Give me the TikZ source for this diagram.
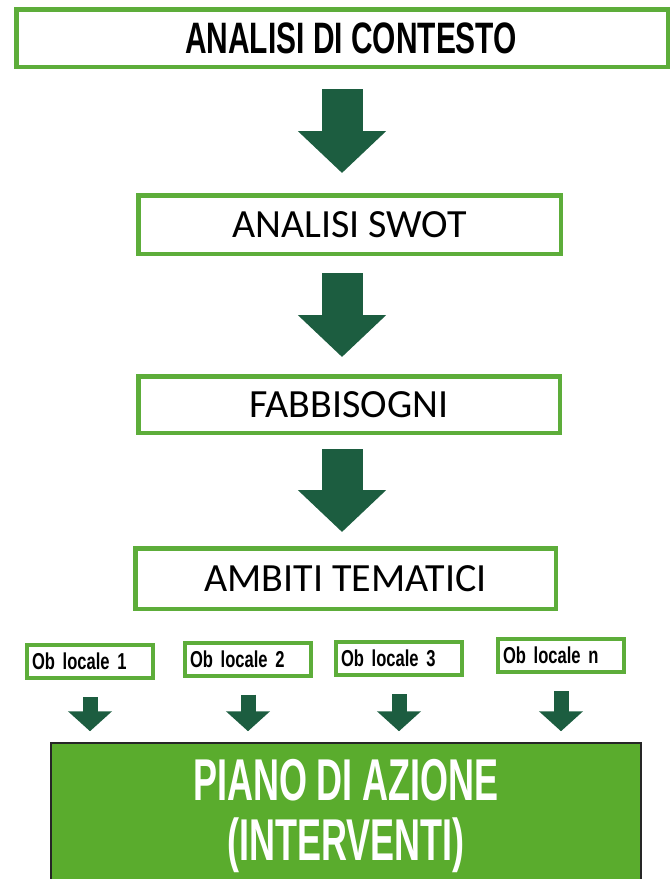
\documentclass[tikz,border=0pt]{standalone}
\usepackage{fontspec}
\setmainfont{Carlito}
\newfontfamily\headfont[FakeStretch=0.68]{Liberation Sans}
\newfontfamily\obfont[FakeStretch=0.72, WordSpace=0.45]{Liberation Sans}
\newfontfamily\pianofont[FakeStretch=0.61]{Liberation Sans}
\usetikzlibrary{positioning}
\usetikzlibrary{arrows.meta}

\definecolor{framegreen}{RGB}{93,173,58}
\definecolor{fillgreen}{RGB}{90,172,45}
\definecolor{arrowgreen}{RGB}{28,93,64}

\begin{document}
\begin{tikzpicture}[x=1pt, y=-1pt,
    stagebox/.style={rectangle, draw=framegreen, line width=4.5pt, fill=white, inner sep=0pt, font=\fontsize{40}{48}\selectfont},
    obbox/.style={rectangle, draw=framegreen, line width=4pt, fill=white, text width=116pt, inner sep=5pt, minimum height=33pt, align=left, font=\obfont\bfseries\fontsize{23}{24}\selectfont},
    bigarrow/.style={draw=arrowgreen, line width=41pt, -{Triangle[width=86pt, length=42pt]}, shorten <=#1, shorten >=#1},
    smallarrow/.style={draw=arrowgreen, line width=15pt, -{Triangle[width=43pt, length=20pt]}, shorten <=17pt, shorten >=11pt}]

    \useasboundingbox (0,0) rectangle (671,879);
    \clip (0,0) rectangle (671,879);

    % Main steps
    \node[stagebox, minimum width=651.5pt, minimum height=57.5pt, font=\headfont\bfseries\fontsize{44}{48}\selectfont] (contesto) at (342,38) {\hspace*{18pt}ANALISI DI CONTESTO};
    \node[stagebox, minimum width=422.5pt, minimum height=58.5pt, below=124pt of contesto, xshift=7.5pt] (swot) {ANALISI SWOT};
    \node[stagebox, minimum width=421.5pt, minimum height=56.5pt, below=118pt of swot, xshift=-0.5pt] (fabb) {FABBISOGNI};
    \node[stagebox, minimum width=420.5pt, minimum height=60.5pt, below=111pt of fabb, xshift=-3.5pt] (ambiti) {AMBITI TEMATICI};

    % Local objectives
    \node[obbox] (ob1) at (90,661.5) {Ob locale 1};
    \node[obbox] (ob2) at (248,659) {Ob locale 2};
    \node[obbox] (ob3) at (399,658.5) {Ob locale 3};
    \node[obbox] (ob4) at (561,655.5) {Ob locale n};

    % Action plan
    \node[draw=black!85, line width=1.5pt, fill=fillgreen, text=white, minimum width=590pt, minimum height=147pt, align=center, font=\pianofont\bfseries\fontsize{59}{60}\selectfont] (piano) at (346,816.5) {PIANO DI AZIONE\\(INTERVENTI)};

    % Arrows
    \draw[bigarrow=20pt] (contesto.south) -- (contesto.south |- swot.north);
    \draw[bigarrow=17pt] (contesto.south |- swot.south) -- (contesto.south |- fabb.north);
    \draw[bigarrow=14pt] (contesto.south |- fabb.south) -- (contesto.south |- ambiti.north);
    \foreach \i in {1,...,4}
      \draw[smallarrow] (ob\i.south) -- (ob\i.south |- piano.north);
  \end{tikzpicture}
\end{document}
